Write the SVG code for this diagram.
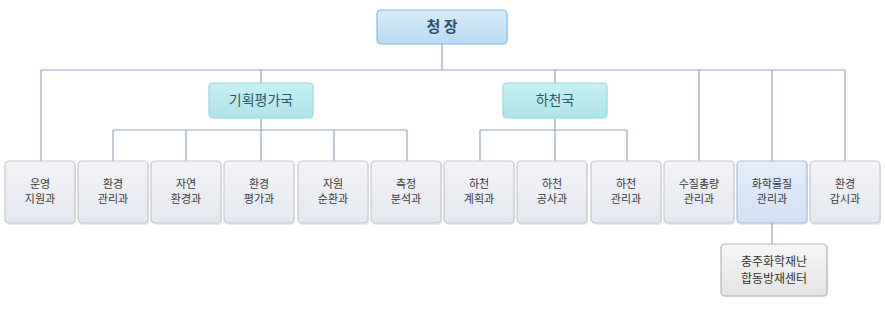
<svg xmlns="http://www.w3.org/2000/svg" width="885" height="328" viewBox="0 0 885 328">
<defs>
<linearGradient id="gTop" x1="0" y1="0" x2="0" y2="1"><stop offset="0" stop-color="#d8ecfa"/><stop offset="1" stop-color="#b9daf3"/></linearGradient>
<linearGradient id="gMid" x1="0" y1="0" x2="0" y2="1"><stop offset="0" stop-color="#c8f0f2"/><stop offset="1" stop-color="#aee3ea"/></linearGradient>
<linearGradient id="gLeaf" x1="0" y1="0" x2="0" y2="1"><stop offset="0" stop-color="#f3f3f6"/><stop offset="1" stop-color="#e4e8f0"/></linearGradient>
<linearGradient id="gSel" x1="0" y1="0" x2="0" y2="1"><stop offset="0" stop-color="#e6eefa"/><stop offset="1" stop-color="#d2e1f4"/></linearGradient>
<linearGradient id="gCtr" x1="0" y1="0" x2="0" y2="1"><stop offset="0" stop-color="#f6f6f6"/><stop offset="1" stop-color="#e4e4e4"/></linearGradient>
</defs>
<style>
.ln{stroke:#93a6c2;stroke-width:1.2;fill:none}
.top{fill:url(#gTop);stroke:#86b8e0;stroke-width:1.2}
.mid{fill:url(#gMid);stroke:#93dbe0;stroke-width:1.2}
.leaf{fill:url(#gLeaf);stroke:#c9c9ce;stroke-width:1.2}
.sel{fill:url(#gSel);stroke:#a3bde0;stroke-width:1.2}
.ctr{fill:url(#gCtr);stroke:#b5b5b5;stroke-width:1.2}
.sh{fill:#000;opacity:0.08}
text{font-family:"Noto Sans CJK KR","Noto Sans",sans-serif;text-anchor:middle;fill:#3a3a3a;font-size:11px}
.t1{font-size:15px;font-weight:bold;fill:#2f4f6e}
.t2{font-size:14px;fill:#2b5a66}
.t3{font-size:12px;fill:#333}
</style>
<g id="connectors">
<path class="ln" d="M442 44V70M41 70H845M41 70V161M261 70V83M555 70V83M699 70V161M772 70V161M845 70V161"/>
<path class="ln" d="M261 118V161M113 130H407M113 130V161M186 130V161M334 130V161M407 130V161"/>
<path class="ln" d="M555 118V161M480 130H627M480 130V161M627 130V161"/>
<path class="ln" d="M772 223V244"/>
</g>
<g id="n-chief"><rect class="top" x="377" y="10" width="130" height="34" rx="4"/><text class="t1" x="442" y="32">청 장</text></g>
<g id="n-plan"><rect class="mid" x="209" y="83" width="104" height="35" rx="4"/><text class="t2" x="261" y="105">기획평가국</text></g>
<g id="n-river"><rect class="mid" x="503" y="83" width="104" height="35" rx="4"/><text class="t2" x="555" y="105">하천국</text></g>
<g id="n1"><rect class="sh" x="6" y="162" width="70" height="63" rx="4"/><rect class="leaf" x="5" y="161" width="70" height="62" rx="4"/><text x="40" y="188">운영</text><text x="40" y="203">지원과</text></g>
<g id="n2"><rect class="sh" x="79" y="162" width="70" height="63" rx="4"/><rect class="leaf" x="78" y="161" width="70" height="62" rx="4"/><text x="113" y="188">환경</text><text x="113" y="203">관리과</text></g>
<g id="n3"><rect class="sh" x="152" y="162" width="70" height="63" rx="4"/><rect class="leaf" x="151" y="161" width="70" height="62" rx="4"/><text x="186" y="188">자연</text><text x="186" y="203">환경과</text></g>
<g id="n4"><rect class="sh" x="225" y="162" width="70" height="63" rx="4"/><rect class="leaf" x="224" y="161" width="70" height="62" rx="4"/><text x="259" y="188">환경</text><text x="259" y="203">평가과</text></g>
<g id="n5"><rect class="sh" x="299" y="162" width="70" height="63" rx="4"/><rect class="leaf" x="298" y="161" width="70" height="62" rx="4"/><text x="333" y="188">자원</text><text x="333" y="203">순환과</text></g>
<g id="n6"><rect class="sh" x="372" y="162" width="70" height="63" rx="4"/><rect class="leaf" x="371" y="161" width="70" height="62" rx="4"/><text x="406" y="188">측정</text><text x="406" y="203">분석과</text></g>
<g id="n7"><rect class="sh" x="445" y="162" width="70" height="63" rx="4"/><rect class="leaf" x="444" y="161" width="70" height="62" rx="4"/><text x="479" y="188">하천</text><text x="479" y="203">계획과</text></g>
<g id="n8"><rect class="sh" x="518" y="162" width="70" height="63" rx="4"/><rect class="leaf" x="517" y="161" width="70" height="62" rx="4"/><text x="552" y="188">하천</text><text x="552" y="203">공사과</text></g>
<g id="n9"><rect class="sh" x="592" y="162" width="70" height="63" rx="4"/><rect class="leaf" x="591" y="161" width="70" height="62" rx="4"/><text x="626" y="188">하천</text><text x="626" y="203">관리과</text></g>
<g id="n10"><rect class="sh" x="665" y="162" width="70" height="63" rx="4"/><rect class="leaf" x="664" y="161" width="70" height="62" rx="4"/><text x="699" y="188">수질총량</text><text x="699" y="203">관리과</text></g>
<g id="n11"><rect class="sh" x="738" y="162" width="70" height="63" rx="4"/><rect class="sel" x="737" y="161" width="70" height="62" rx="4"/><text x="772" y="188">화학물질</text><text x="772" y="203">관리과</text></g>
<g id="n12"><rect class="sh" x="811" y="162" width="70" height="63" rx="4"/><rect class="leaf" x="810" y="161" width="70" height="62" rx="4"/><text x="845" y="188">환경</text><text x="845" y="203">감시과</text></g>
<g id="n-center"><rect class="sh" x="722" y="245" width="106" height="52" rx="4"/><rect class="ctr" x="721" y="244" width="106" height="52" rx="4"/><text class="t3" x="774" y="266">충주화학재난</text><text class="t3" x="774" y="283">합동방재센터</text></g>
</svg>
